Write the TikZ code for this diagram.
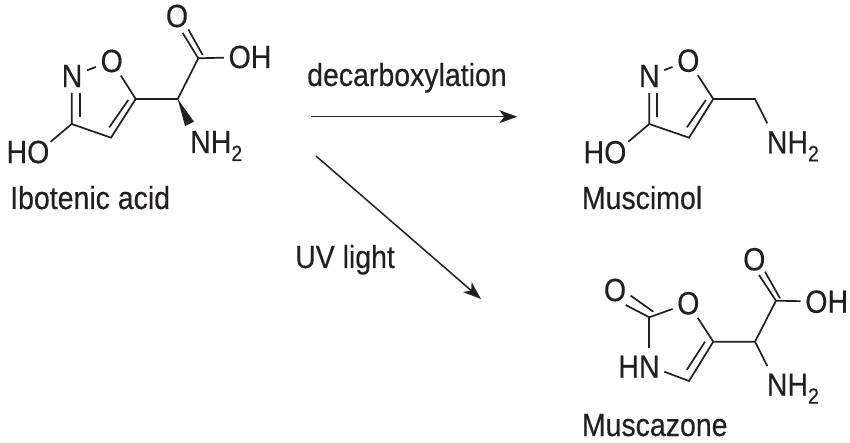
\documentclass[tikz,border=0pt]{standalone}
\usepackage{fontspec}
\setmainfont{Liberation Sans}[FakeStretch=0.89, FakeBold=0.35]
\usepackage{tikz}
\usetikzlibrary{arrows.meta}
\definecolor{chemink}{HTML}{231F20}
\newcommand{\nhtwo}{NH\raisebox{-8pt}{\fontsize{22}{22}\selectfont 2}}
\tikzset{
  atom/.style={inner xsep=4.5pt, inner ysep=3pt, text=chemink},
  caption/.style={anchor=base west, inner sep=0pt, text=chemink},
  bond/.style={draw=chemink, line width=1.7pt},
  reaction/.style={draw=chemink, line width=1.5pt, -{Stealth[length=18pt, width=13pt, inset=5pt]}}
}
\begin{document}
\begin{tikzpicture}[x=1pt, y=-1pt, font=\fontsize{32}{36}\selectfont]
\useasboundingbox (0,0) rectangle (850,443);
% Ibotenic acid
\node [atom] (o1) at (111.7,61) {O};
\node [atom] (n1) at (72,76) {N};
\node [atom] (ho1) at (28,152) {HO};
\node [atom] (oa) at (177,16) {O};
\node [atom] (oh1) at (250,57) {OH};
\node [atom, anchor=base west, inner sep=0pt] (nh1) at (190,153) {\nhtwo};
\node [caption] (name1) at (10,209) {Ibotenic acid};
\coordinate (c5a) at (135.7,99);
\coordinate (c4a) at (111,137.7);
\coordinate (c3a) at (71.7,124);
\coordinate (caa) at (177.7,99);
\coordinate (cca) at (198.3,58.3);
\coordinate (da1) at (80,93);
\coordinate (da2) at (80,117);
\coordinate (da3) at (128.3,100);
\coordinate (da4) at (109.3,127.3);
\coordinate (da5) at (182.7,33);
\coordinate (da6) at (188.3,29.3);
\coordinate (da7) at (202.7,55);
\coordinate (wa1) at (185,126);
\coordinate (wa2) at (194,121.7);
\coordinate (ea1) at (71.7,93);
\coordinate (ea2) at (50.7,141.7);
\draw [bond] (n1) -- (o1);
\draw [bond] (o1) -- (c5a);
\draw [bond] (c5a) -- (c4a) -- (c3a) -- (ea1);
\draw [bond] (da1) -- (da2);
\draw [bond] (da3) -- (da4);
\draw [bond] (c3a) -- (ea2);
\draw [bond] (c5a) -- (caa) -- (cca) -- (da5);
\draw [bond] (da6) -- (da7);
\draw [bond] (cca) -- (oh1);
\fill [chemink] (caa) -- (wa1) -- (wa2) -- cycle;
% Muscimol
\node [atom] (o2) at (688.3,60.7) {O};
\node [atom] (n2) at (649.3,76) {N};
\node [atom] (ho2) at (605,152.3) {HO};
\node [atom, anchor=base west, inner sep=0pt] (nh2) at (766.7,153.3) {\nhtwo};
\node [caption] (name2) at (581.7,209) {Muscimol};
\coordinate (c5b) at (713.3,99);
\coordinate (c4b) at (689,137.7);
\coordinate (c3b) at (649.3,124);
\coordinate (ch2b) at (755,99);
\coordinate (eb1) at (649.3,93);
\coordinate (eb2) at (767.3,123.3);
\coordinate (eb3) at (628.3,141.7);
\coordinate (db1) at (657.3,93);
\coordinate (db2) at (657.3,117);
\coordinate (db3) at (705.9,100);
\coordinate (db4) at (686.9,127.3);
\draw [bond] (n2) -- (o2);
\draw [bond] (o2) -- (c5b);
\draw [bond] (c5b) -- (c4b) -- (c3b) -- (eb1);
\draw [bond] (db1) -- (db2);
\draw [bond] (db3) -- (db4);
\draw [bond] (c3b) -- (eb3);
\draw [bond] (c5b) -- (ch2b) -- (eb2);
% Muscazone
\node [atom] (o3) at (688.3,303.3) {O};
\node [atom] (oc) at (615,290) {O};
\node [atom] (hn3) at (639,366.7) {HN};
\node [atom] (ob) at (754.3,259.3) {O};
\node [atom] (oh3) at (826.7,301.7) {OH};
\node [atom, anchor=base west, inner sep=0pt] (nh3) at (766.7,395.7) {\nhtwo};
\node [caption] (name3) at (581.7,436) {Muscazone};
\coordinate (c2c) at (649.3,317.3);
\coordinate (c4c) at (689,381);
\coordinate (c5c) at (713.3,341.7);
\coordinate (cac) at (755,341.7);
\coordinate (ccc) at (776,300.7);
\coordinate (ec1) at (649.3,348.3);
\coordinate (ec2) at (664.3,371.7);
\coordinate (ec3) at (767.3,366);
\coordinate (dc1) at (625.7,305);
\coordinate (dc2) at (630.7,295.7);
\coordinate (dc3) at (653.3,311.7);
\coordinate (dc4) at (705,341.7);
\coordinate (dc5) at (686.7,370);
\coordinate (dc6) at (759,275);
\coordinate (dc7) at (765,271.7);
\coordinate (dc8) at (780,298.3);
\draw [bond] (c2c) -- (dc1);
\draw [bond] (dc2) -- (dc3);
\draw [bond] (c2c) -- (o3);
\draw [bond] (o3) -- (c5c);
\draw [bond] (c2c) -- (ec1);
\draw [bond] (ec2) -- (c4c) -- (c5c);
\draw [bond] (dc4) -- (dc5);
\draw [bond] (c5c) -- (cac) -- (ccc) -- (dc6);
\draw [bond] (dc7) -- (dc8);
\draw [bond] (ccc) -- (oh3);
\draw [bond] (cac) -- (ec3);
% Arrows
\coordinate (ar1s) at (311,116.7);
\coordinate (ar1e) at (517.3,116.7);
\coordinate (ar2s) at (316,156);
\coordinate (ar2e) at (481,299);
\draw [reaction] (ar1s) -- (ar1e);
\draw [reaction] (ar2s) -- (ar2e);
% Labels
\node [caption] (decarb) at (307,86) {decarboxylation};
\node [caption] (uv) at (295,268) {UV light};
\end{tikzpicture}
\end{document}
